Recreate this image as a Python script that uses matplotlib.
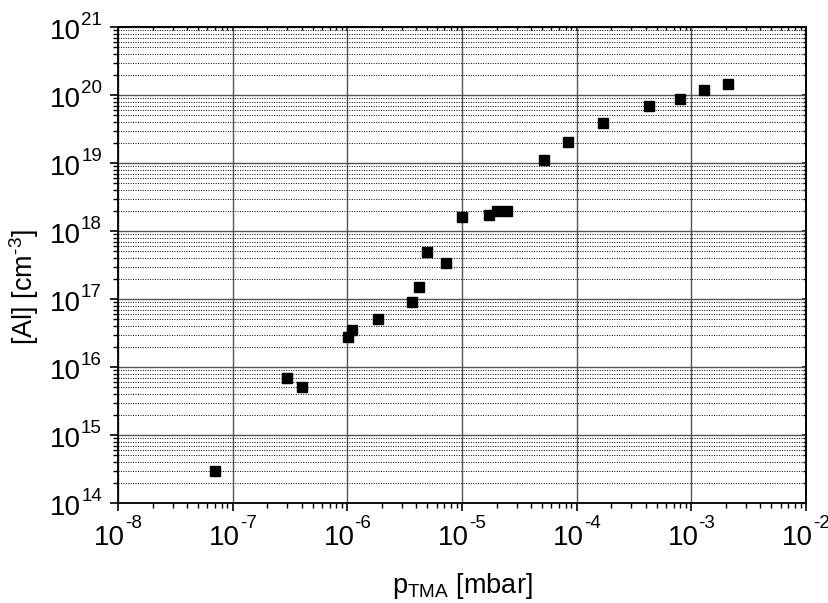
import matplotlib
matplotlib.use("Agg")
import matplotlib.pyplot as plt
from matplotlib.ticker import LogLocator, NullFormatter, FixedLocator

plt.rcParams['font.family'] = ['Liberation Sans', 'DejaVu Sans']
plt.rcParams['mathtext.fontset'] = 'custom'
plt.rcParams['mathtext.rm'] = 'Liberation Sans'
plt.rcParams['mathtext.it'] = 'Liberation Sans:italic'
plt.rcParams['mathtext.default'] = 'regular'

p_tma = [7.0e-8, 3.0e-7, 4.0e-7, 1.01e-6, 1.10e-6, 1.85e-6, 3.66e-6, 4.24e-6,
         4.98e-6, 7.2e-6, 1.0e-5, 1.71e-5, 2.0e-5, 2.48e-5, 5.14e-5, 8.43e-5,
         1.68e-4, 4.24e-4, 7.9e-4, 1.28e-3, 2.07e-3]
al_conc = [3.0e14, 7.0e15, 5.0e15, 2.8e16, 3.5e16, 5.0e16, 8.9e16, 1.5e17,
           4.9e17, 3.4e17, 1.6e18, 1.7e18, 2.0e18, 2.0e18, 1.1e19, 2.05e19,
           3.9e19, 6.8e19, 8.8e19, 1.17e20, 1.47e20]
x_ticks = [1e-8, 1e-7, 1e-6, 1e-5, 1e-4, 1e-3, 1e-2]
x_exponents = ['-8', '-7', '-6', '-5', '-4', '-3', '-2']
y_ticks = [1e14, 1e15, 1e16, 1e17, 1e18, 1e19, 1e20, 1e21]
y_exponents = ['14', '15', '16', '17', '18', '19', '20', '21']

BASE_FS = 20
SUP_FS = 13.5

fig = plt.figure(figsize=(8.29, 6.03), dpi=100)
ax = fig.add_axes([118/829, 1-503/603, (806-118)/829, (503-27)/603])
ax.set_xscale('log')
ax.set_yscale('log')
ax.set_xlim(1e-8, 1e-2)
ax.set_ylim(1e14, 1e21)

ax.plot(p_tma, al_conc, linestyle='none', marker='s', markersize=6.5,
        color='black', zorder=5)

ax.xaxis.set_major_locator(FixedLocator(x_ticks))
ax.yaxis.set_major_locator(FixedLocator(y_ticks))
ax.xaxis.set_minor_locator(LogLocator(base=10, subs=range(2, 10), numticks=20))
ax.yaxis.set_minor_locator(LogLocator(base=10, subs=range(2, 10), numticks=20))
ax.xaxis.set_minor_formatter(NullFormatter())
ax.yaxis.set_minor_formatter(NullFormatter())

ax.grid(True, which='major', axis='both', color='#555555', linewidth=1.0, linestyle='-')
ax.grid(True, which='minor', axis='y', color='black', linewidth=0.7, linestyle=(0, (1, 1.5)))
ax.set_axisbelow(True)

ax.tick_params(which='major', direction='out', length=6, width=1.2,
               labelbottom=False, labelleft=False)
ax.tick_params(which='minor', direction='out', length=3.5, width=1.0)
for s in ax.spines.values():
    s.set_linewidth(1.3)

# top / right axes with small inward ticks
secx = ax.secondary_xaxis('top')
secx.xaxis.set_major_locator(FixedLocator(x_ticks))
secx.xaxis.set_minor_locator(LogLocator(base=10, subs=range(2, 10), numticks=20))
secx.tick_params(which='major', direction='in', length=3, width=1.2, labeltop=False)
secx.tick_params(which='minor', direction='in', length=2, width=1.0)
secx.xaxis.set_major_formatter(NullFormatter())
secx.xaxis.set_minor_formatter(NullFormatter())
secy = ax.secondary_yaxis('right')
secy.yaxis.set_major_locator(FixedLocator(y_ticks))
secy.yaxis.set_minor_locator(LogLocator(base=10, subs=range(2, 10), numticks=20))
secy.tick_params(which='major', direction='in', length=3, width=1.2, labelright=False)
secy.tick_params(which='minor', direction='in', length=2, width=1.0)
secy.yaxis.set_major_formatter(NullFormatter())
secy.yaxis.set_minor_formatter(NullFormatter())
for sa in (secx, secy):
    for s in sa.spines.values():
        s.set_linewidth(1.3)

# power-of-ten tick labels with raised hyphen exponents
renderer = fig.canvas.get_renderer()


def text_width(s, fs):
    t = fig.text(0, 0, s, fontsize=fs)
    w = t.get_window_extent(renderer).width
    t.remove()
    return w


w10 = text_width('10', BASE_FS)
xtr = ax.get_xaxis_transform()
for t, e in zip(x_ticks, x_exponents):
    we = text_width(e, SUP_FS)
    left = -(w10 + we) / 2
    ax.annotate('10', xy=(t, 0), xycoords=xtr, xytext=(left, -42),
                textcoords='offset pixels', ha='left', va='baseline',
                fontsize=BASE_FS, annotation_clip=False)
    ax.annotate(e, xy=(t, 0), xycoords=xtr, xytext=(left + w10, -42 + 17),
                textcoords='offset pixels', ha='left', va='baseline',
                fontsize=SUP_FS, annotation_clip=False)

ytr = ax.get_yaxis_transform()
for t, e in zip(y_ticks, y_exponents):
    we = text_width(e, SUP_FS)
    right = -16
    ax.annotate(e, xy=(0, t), xycoords=ytr, xytext=(right, -12 + 14),
                textcoords='offset pixels', ha='right', va='baseline',
                fontsize=SUP_FS, annotation_clip=False)
    ax.annotate('10', xy=(0, t), xycoords=ytr, xytext=(right - we, -12),
                textcoords='offset pixels', ha='right', va='baseline',
                fontsize=BASE_FS, annotation_clip=False)

fig.text(462/829, 1 - 593/603, r'p$_{TMA}$ [mbar]', fontsize=19.5,
         ha='center', va='baseline')
fig.text(33/829, 1 - 287/603, r'[Al] [cm$^{\text{-}3}$]', fontsize=19.5,
         ha='center', va='baseline', rotation=90, rotation_mode='anchor')

fig.savefig('out.png', dpi=100)
